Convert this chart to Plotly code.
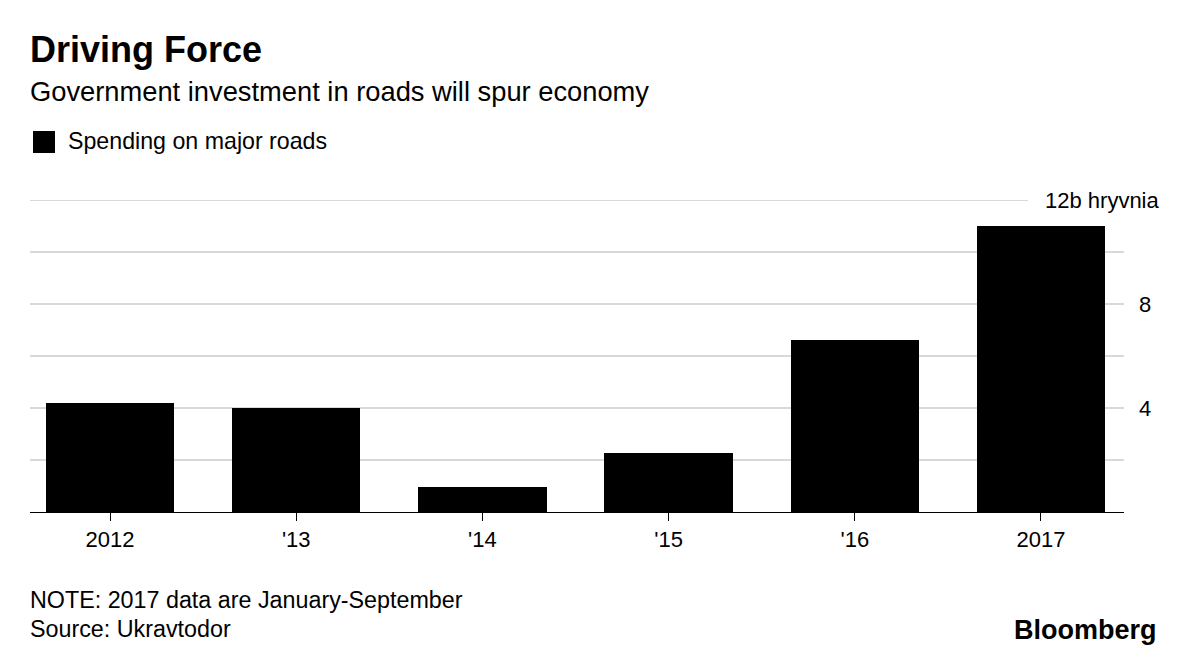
import plotly.graph_objects as go

categories = ["2012", "'13", "'14", "'15", "'16", "2017"]
spending = [4.2, 4.0, 0.95, 2.27, 6.6, 11.0]
grid_values = [2, 4, 6, 8, 10, 12]
y_labels = {4: "4", 8: "8"}
top_label = "12b hryvnia"

FONT = "Liberation Sans, Arial, Helvetica, sans-serif"
L, R, T, B = 30, 76, 200, 149
W, H = 1200, 661
PW = W - L - R
PH = H - T - B

def px(x):
    return (x - L) / PW

def py(y):
    return (H - B - y) / PH

fig = go.Figure()
fig.add_trace(go.Bar(
    x=list(range(len(categories))), y=spending,
    marker=dict(color="black", line=dict(width=0)),
    width=0.69, showlegend=False, hoverinfo="skip",
))

shapes = []
for v in grid_values:
    x1 = 1.0 if v != 12 else px(1028)
    shapes.append(dict(type="line", xref="paper", yref="y", x0=0, x1=x1, y0=v, y1=v,
                       line=dict(color="#d9d9d9", width=2), layer="below"))
# legend swatch
shapes.append(dict(type="rect", xref="paper", yref="paper",
                   x0=px(33), x1=px(55), y0=py(131), y1=py(153),
                   fillcolor="black", line=dict(width=0)))

annotations = []
for v, t in y_labels.items():
    annotations.append(dict(text=t, xref="paper", yref="y", x=px(1145), y=v,
                            xanchor="center", yanchor="middle", showarrow=False,
                            font=dict(family=FONT, size=22, color="black")))
annotations.append(dict(text=top_label, xref="paper", yref="y", x=px(1162), y=12,
                        xanchor="right", yanchor="middle", showarrow=False,
                        font=dict(family=FONT, size=22, color="black")))
annotations += [
    dict(text="<b>Driving Force</b>", xref="paper", yref="paper", x=px(28), y=py(50),
         xanchor="left", yanchor="middle", showarrow=False,
         font=dict(family=FONT, size=36, color="black")),
    dict(text="Government investment in roads will spur economy", xref="paper", yref="paper",
         x=px(28), y=py(92), xanchor="left", yanchor="middle", showarrow=False,
         font=dict(family=FONT, size=27.3, color="black")),
    dict(text="Spending on major roads", xref="paper", yref="paper",
         x=px(66), y=py(141), xanchor="left", yanchor="middle", showarrow=False,
         font=dict(family=FONT, size=23.2, color="black")),
    dict(text="NOTE: 2017 data are January-September", xref="paper", yref="paper",
         x=px(28), y=py(600), xanchor="left", yanchor="middle", showarrow=False,
         font=dict(family=FONT, size=23.3, color="black")),
    dict(text="Source: Ukravtodor", xref="paper", yref="paper",
         x=px(28), y=py(629), xanchor="left", yanchor="middle", showarrow=False,
         font=dict(family=FONT, size=23.3, color="black")),
    dict(text="<b>Bloomberg</b>", xref="paper", yref="paper",
         x=px(1159), y=py(630), xanchor="right", yanchor="middle", showarrow=False,
         font=dict(family=FONT, size=27, color="black")),
]

fig.update_layout(
    width=W, height=H,
    margin=dict(l=L, r=R, t=T, b=B),
    paper_bgcolor="white", plot_bgcolor="white",
    shapes=shapes, annotations=annotations,
    bargap=0,
    xaxis=dict(
        range=[-0.43, 5.446], tickmode="array",
        tickvals=list(range(len(categories))), ticktext=categories,
        showgrid=False, zeroline=False,
        showline=True, linecolor="black", linewidth=1,
        ticks="outside", ticklen=8, tickcolor="black", tickwidth=1,
        tickfont=dict(family=FONT, size=22, color="black"),
    ),
    yaxis=dict(range=[0, 12], showgrid=False, zeroline=False,
               showticklabels=False, ticks=""),
)

fig.write_html("out.html")
